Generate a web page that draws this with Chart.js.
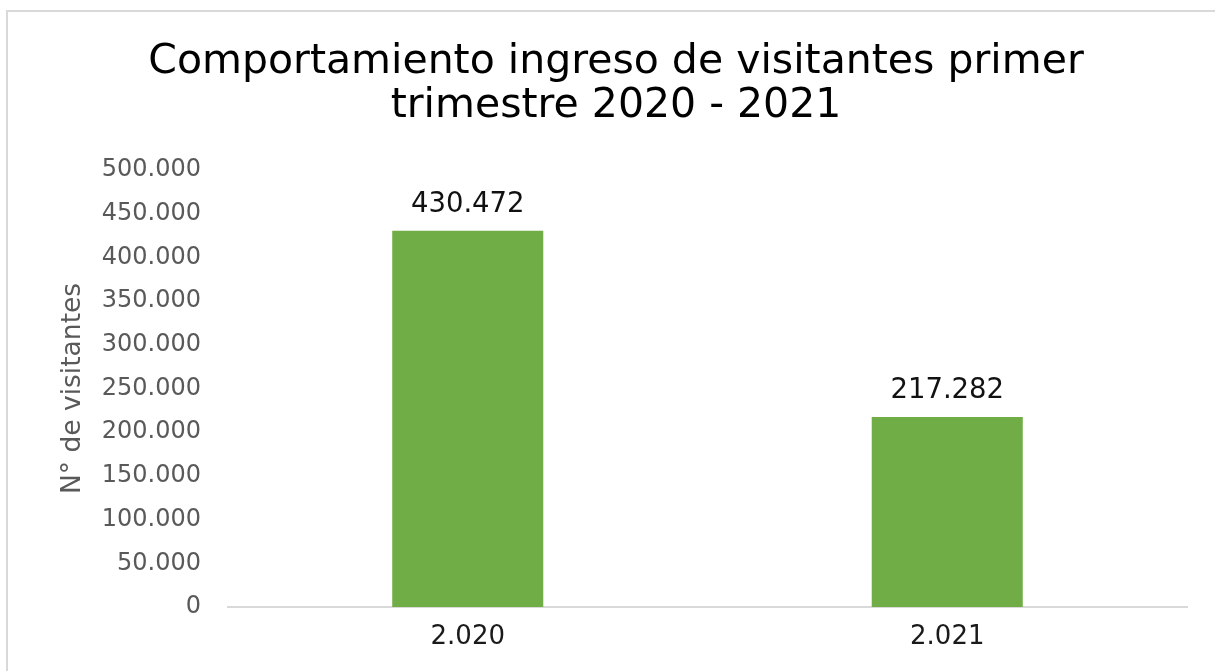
<!DOCTYPE html>
<html>
<head>
<meta charset="utf-8">
<script src="https://cdn.jsdelivr.net/npm/chart.js@4"></script>
<style>
  body { margin: 0; background: #fff; }
  #frame { position: absolute; left: 6px; top: 10px; width: 1300px; height: 800px;
           border-left: 2px solid #d9d9d9; border-top: 2px solid #d9d9d9; }
  #wrap { position: absolute; left: 0; top: 0; width: 1215px; height: 671px; }
</style>
</head>
<body>
<div id="frame"></div>
<div id="wrap"><canvas id="myChart"></canvas></div>
<script>
// datos del grafico
var years = ["2.020", "2.021"]
var visitantes = [430472, 217282]
var yTicks = [0, 50000, 100000, 150000, 200000, 250000, 300000, 350000, 400000, 450000, 500000]

var fuente = "'DejaVu Sans', Verdana, sans-serif"

function puntos(v){
    return String(v).replace(/\B(?=(\d{3})+(?!\d))/g, ".")
}

// etiquetas encima de las barras
var etiquetas = {
    id: "etiquetas",
    afterDatasetsDraw: function(chart){
        var ctx = chart.ctx
        var meta = chart.getDatasetMeta(0)
        ctx.save()
        ctx.font = "27.5px " + fuente
        ctx.fillStyle = "#111"
        ctx.textAlign = "center"
        ctx.textBaseline = "middle"
        meta.data.forEach(function(bar, i){
            ctx.fillText(puntos(visitantes[i]), bar.x, bar.y - 26)
        })
        ctx.restore()
    }
}

var chart = new Chart(document.getElementById("myChart"), {
    type: "bar",
    data: {
        labels: years,
        datasets: [{
            data: visitantes,
            backgroundColor: "#70ad47",
            categoryPercentage: 1,
            barPercentage: 0.315
        }]
    },
    options: {
        responsive: true,
        maintainAspectRatio: false,
        animation: false,
        layout: { padding: { left: 45, right: 28, top: 0, bottom: 0 } },
        plugins: {
            legend: { display: false },
            tooltip: { enabled: false },
            title: {
                display: true,
                text: ["Comportamiento ingreso de visitantes primer", "trimestre 2020 - 2021"],
                color: "#000",
                font: { family: fuente, size: 41, weight: "normal", lineHeight: 1.06 },
                padding: { top: 41, bottom: 42 }
            }
        },
        scales: {
            x: {
                grid: { display: false, drawTicks: false },
                border: { color: "#d9d9d9", width: 2 },
                ticks: {
                    color: "#1a1a1a",
                    padding: 15,
                    font: { family: fuente, size: 26 }
                },
                afterFit: function(s){ s.height = 64 }
            },
            y: {
                min: 0,
                max: 500000,
                afterBuildTicks: function(s){
                    s.ticks = yTicks.map(function(v){ return { value: v } })
                },
                grid: { display: false, drawTicks: false },
                border: { display: false },
                ticks: {
                    color: "#595959",
                    padding: 27,
                    font: { family: fuente, size: 24 },
                    callback: function(v){ return puntos(v) }
                },
                title: {
                    display: true,
                    text: "N° de visitantes",
                    color: "#595959",
                    padding: { top: 12, bottom: 0 },
                    font: { family: fuente, size: 26.5 }
                },
                afterFit: function(s){ s.width = 183 }
            }
        }
    },
    plugins: [etiquetas]
})
</script>
</body>
</html>
